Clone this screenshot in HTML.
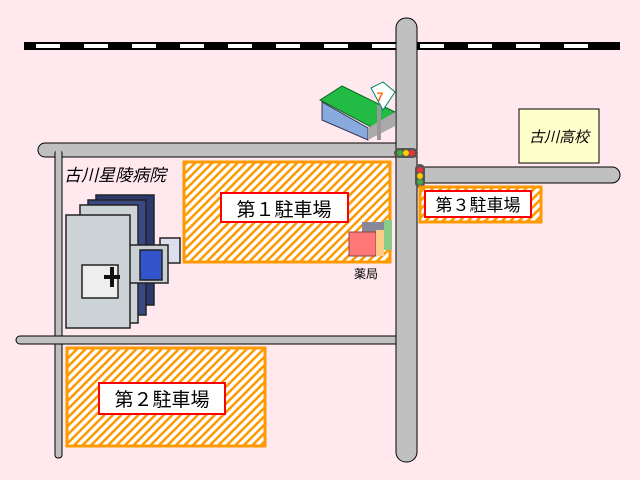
<!DOCTYPE html>
<html><head><meta charset="utf-8"><style>
body{margin:0;background:#ffe8ee;}
svg{display:block}
text{font-family:"Liberation Sans","Noto Sans CJK JP",sans-serif;}
</style></head><body>
<svg width="640" height="480" viewBox="0 0 640 480" xmlns="http://www.w3.org/2000/svg">
<defs>
<pattern id="h" width="6" height="6" patternUnits="userSpaceOnUse" patternTransform="rotate(45)">
<rect width="6" height="6" fill="#fff"/><rect width="2.5" height="6" fill="#ff9900"/>
</pattern>
</defs>
<rect width="640" height="480" fill="#ffe8ee"/>
<rect x="24" y="42" width="596" height="8" fill="#000"/>
<g fill="#fff">
<rect x="36" y="44" width="24" height="4"/><rect x="84" y="44" width="24" height="4"/><rect x="132" y="44" width="24" height="4"/>
<rect x="180" y="44" width="24" height="4"/><rect x="228" y="44" width="24" height="4"/><rect x="276" y="44" width="24" height="4"/>
<rect x="324" y="44" width="24" height="4"/><rect x="372" y="44" width="24" height="4"/><rect x="420" y="44" width="24" height="4"/>
<rect x="468" y="44" width="24" height="4"/><rect x="516" y="44" width="24" height="4"/><rect x="564" y="44" width="24" height="4"/>
</g>
<g fill="#c0c0c0" stroke="#000" stroke-width="1">
<rect x="38" y="143" width="370" height="14" rx="7"/>
<rect x="55" y="150" width="7" height="308" rx="3"/>
<rect x="16" y="336" width="390" height="8" rx="4"/>
<rect x="410" y="167" width="210" height="16" rx="8"/>
<rect x="396" y="18" width="21" height="444" rx="10"/>
</g>
<g fill="#c0c0c0">
<rect x="396.5" y="143.5" width="20" height="13"/>
<rect x="55.5" y="143.5" width="6" height="13"/>
<rect x="55.5" y="336.5" width="6" height="7"/>
<rect x="396.5" y="336.5" width="20" height="7"/>
<rect x="396.5" y="167.5" width="20" height="15"/>
</g>
<rect x="394" y="148" width="24" height="10" rx="5" fill="#555"/>
<circle cx="400" cy="153" r="3" fill="#4a4"/><circle cx="406" cy="153" r="3" fill="#fc0"/><circle cx="412" cy="153" r="3" fill="#e33"/>
<rect x="415" y="164" width="10" height="24" rx="5" fill="#555"/>
<circle cx="420" cy="170" r="3" fill="#e33"/><circle cx="420" cy="176" r="3" fill="#fc0"/><circle cx="420" cy="182" r="3" fill="#4a4"/>
<rect x="184" y="162" width="206" height="100" fill="url(#h)" stroke="#ff9900" stroke-width="3"/>
<rect x="221" y="193" width="127" height="29" fill="#fff" stroke="#f00" stroke-width="2"/>
<text x="284" y="216" font-size="19" text-anchor="middle">第１駐車場</text>
<rect x="420" y="187" width="121" height="35" fill="url(#h)" stroke="#ff9900" stroke-width="3"/>
<rect x="425" y="191" width="106" height="26" fill="#fff" stroke="#f00" stroke-width="2"/>
<text x="478" y="211" font-size="17" text-anchor="middle">第３駐車場</text>
<rect x="67" y="348" width="198" height="98" fill="url(#h)" stroke="#ff9900" stroke-width="3"/>
<rect x="99" y="383" width="126" height="31" fill="#fff" stroke="#f00" stroke-width="2"/>
<text x="162" y="406" font-size="19" text-anchor="middle">第２駐車場</text>
<text x="64" y="181" font-size="17" font-style="italic">古川星陵病院</text>
<g stroke="#222" stroke-width="1.5">
<rect x="96" y="195" width="58" height="110" fill="#2a3a70"/>
<rect x="88" y="200" width="58" height="115" fill="#3a4a80"/>
<rect x="80" y="205" width="58" height="118" fill="#ccd4d8"/>
<rect x="160" y="238" width="20" height="25" fill="#dde"/>
<rect x="128" y="245" width="40" height="38" fill="#c8d0d4"/>
<rect x="140" y="250" width="22" height="30" fill="#3355cc"/>
<rect x="66" y="215" width="64" height="113" fill="#ccd4d8"/>
<rect x="82" y="265" width="36" height="33" fill="#eee"/>
</g>
<path d="M110 267h4v8h6v4h-6v8h-4v-8h-6v-4h6z" fill="#111"/>
<rect x="362" y="222" width="24" height="12" fill="#889"/>
<rect x="349" y="232" width="27" height="24" fill="#f77" stroke="#844"/>
<rect x="376" y="230" width="8" height="26" fill="#fc8"/>
<rect x="384" y="220" width="8" height="30" fill="#8c8"/>
<text x="366" y="278" font-size="12" text-anchor="middle">薬局</text>
<polygon points="320,100 342,86 395,112 373,128" fill="#22bb44" stroke="#116622"/>
<polygon points="322,102 322,120 368,140 368,128" fill="#88aadd" stroke="#335"/>
<polygon points="368,128 395,112 395,126 368,140" fill="#aaa"/>
<rect x="377" y="105" width="4" height="35" fill="#999"/>
<polygon points="371,88 383,82 395,92 383,110" fill="#fff" stroke="#086"/>
<text x="380" y="101" font-size="12" fill="#f60" font-weight="bold" text-anchor="middle">7</text>
<rect x="519" y="109" width="80" height="54" fill="#ffffcc" stroke="#000"/>
<text x="559" y="142" font-size="15" font-style="italic" text-anchor="middle">古川高校</text>
</svg>
</body></html>
